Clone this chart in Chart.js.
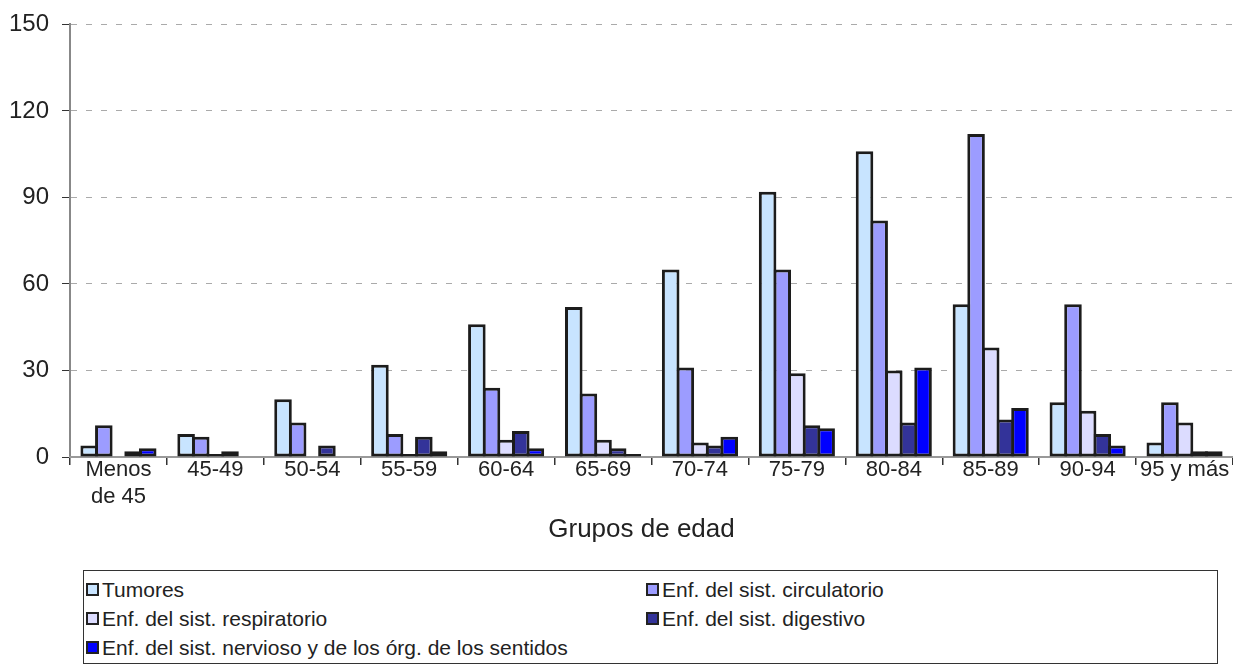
<!DOCTYPE html>
<html>
<head>
<meta charset="utf-8">
<script src="https://cdn.jsdelivr.net/npm/chart.js@4.4.0/dist/chart.umd.min.js"></script>
<style>
    body { margin: 0; background: #fff; font-family: "Liberation Sans", Arial, sans-serif; }
    #wrap { position: relative; width: 1233px; height: 669px; overflow: hidden; }
    #box { position: absolute; left: 0; top: -3px; width: 1233px; height: 553px; }
    #legend {
        position: absolute; left: 83px; top: 570px; width: 1133px; height: 88px;
        border: 1px solid #333; box-sizing: content-box;
        display: grid; grid-template-columns: 560px 560px; grid-auto-rows: 29px;
        padding-top: 4px; color: #222; font-size: 21px;
    }
    .item { display: flex; align-items: center; white-space: nowrap; }
    .sw { width: 9px; height: 9px; border: 2px solid #222; margin: 0 3px 0 2px; }
</style>
</head>
<body>
<div id="wrap">
    <div id="box"><canvas id="chart"></canvas></div>
    <div id="legend"></div>
</div>
<script>
const categorias = [['Menos', 'de 45'], '45-49', '50-54', '55-59', '60-64', '65-69', '70-74', '75-79', '80-84', '85-89', '90-94', '95 y más'];
const tumores      = [4, 8, 20, 32, 46, 52, 65, 92, 106, 53, 19, 5];
const circulatorio = [11, 7, 12, 8, 24, 22, 31, 65, 82, 112, 53, 19];
const respiratorio = [null, 1, null, 1, 6, 6, 5, 29, 30, 38, 16, 12];
const digestivo    = [2, 2, 4, 7, 9, 3, 4, 11, 12, 13, 8, 2];
const nervioso     = [3, null, null, 2, 3, 1, 7, 10, 31, 17, 4, 2];
const yTicks = [0, 30, 60, 90, 120, 150];
const tituloX = 'Grupos de edad';

const series = [
    { label: 'Tumores', data: tumores, color: '#C8E4FF' },
    { label: 'Enf. del sist. circulatorio', data: circulatorio, color: '#9C9CFF' },
    { label: 'Enf. del sist. respiratorio', data: respiratorio, color: '#DCDCFF' },
    { label: 'Enf. del sist. digestivo', data: digestivo, color: '#333399' },
    { label: 'Enf. del sist. nervioso y de los órg. de los sentidos', data: nervioso, color: '#0000FF' }
];

const fuente = '"Liberation Sans", Arial, sans-serif';

// Achsentitel etwas links von der Mitte, wie im Original
const titelPlugin = {
    id: 'titelX',
    afterDraw(chart) {
        const ctx = chart.ctx;
        const area = chart.chartArea;
        ctx.save();
        ctx.font = '26px ' + fuente;
        ctx.fillStyle = '#222';
        ctx.textAlign = 'center';
        ctx.textBaseline = 'middle';
        ctx.fillText(tituloX, (area.left + area.right) / 2 - 10, area.bottom + 73);
        ctx.restore();
    }
};

function main() {
    // Balken leicht ueberlappend, damit sich die Raender teilen
    const datasets = series.map(s => ({
        label: s.label,
        data: s.data,
        backgroundColor: s.color,
        borderColor: '#1c1c1c',
        borderWidth: 3,
        borderSkipped: false,
        categoryPercentage: 0.755,
        barPercentage: 1.2
    }));

    new Chart(document.getElementById('chart'), {
        type: 'bar',
        data: { labels: categorias, datasets: datasets },
        plugins: [titelPlugin],
        options: {
            responsive: true,
            maintainAspectRatio: false,
            animation: false,
            layout: { padding: { top: 20, right: 0, left: 0, bottom: 0 } },
            plugins: { legend: { display: false }, tooltip: { enabled: false } },
            scales: {
                y: {
                    min: 0, max: 150,
                    afterBuildTicks: axis => { axis.ticks = yTicks.map(v => ({ value: v })); },
                    afterFit: axis => { axis.width = 70; },
                    ticks: { color: '#222', padding: 13, font: { family: fuente, size: 24 } },
                    grid: { color: '#aaa', lineWidth: 1, tickLength: 8, tickColor: '#333', tickBorderDash: [] },
                    border: { color: '#888', width: 2, dash: [6, 9] }
                },
                x: {
                    afterFit: axis => { axis.height = 93; },
                    ticks: { color: '#222', padding: -8, maxRotation: 0, autoSkip: false, font: { family: fuente, size: 22, lineHeight: 1.2 } },
                    grid: { drawOnChartArea: false, tickLength: 8, tickColor: '#333', lineWidth: 1.5 },
                    border: { color: '#999', width: 2 }
                }
            }
        }
    });

    // Legende als Kasten unten
    const leg = document.getElementById('legend');
    series.forEach(s => {
        const it = document.createElement('div');
        it.className = 'item';
        it.innerHTML = '<span class="sw" style="background:' + s.color + '"></span><span>' + s.label + '</span>';
        leg.appendChild(it);
    });
}

window.onload = function () {
    main();
};
</script>
</body>
</html>
